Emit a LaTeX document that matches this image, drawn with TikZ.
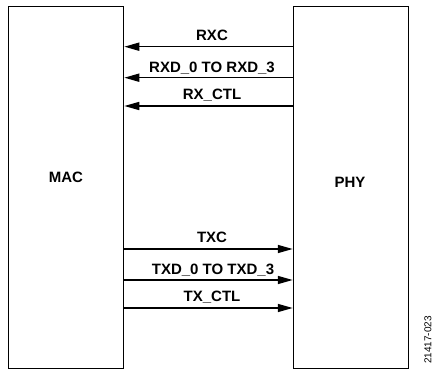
\documentclass[tikz,border=0pt]{standalone}
\usepackage{fontspec}
\setmainfont{Liberation Sans}
\usetikzlibrary{arrows.meta}
\begin{document}
\begin{tikzpicture}[x=1pt,y=-1pt,
  box/.style={draw,line width=1.5pt,minimum width=115pt,minimum height=362pt,inner sep=0pt},
  sig/.style={line width=1.6pt,-{Triangle[length=15pt,width=8pt]}},
  lbl/.style={font=\fontsize{15}{18}\selectfont\bfseries,anchor=base,inner sep=0pt},
  blk/.style={font=\fontsize{15}{18}\selectfont\bfseries,inner sep=0pt}]
\useasboundingbox (0,0) rectangle (437,371);
\node[box] (mac) at (66,187.5) {};
\node[box] (phy) at (351,187.5) {};
\node[blk] (maclbl) at (66,177) {MAC};
\node[blk] (phylbl) at (350,182) {PHY};
% receive
\draw[sig] (phy.west |- 0,46.7) -- (mac.east |- 0,46.7);
\draw[sig] (phy.west |- 0,77.7) -- (mac.east |- 0,77.7);
\draw[sig] (phy.west |- 0,106) -- (mac.east |- 0,106);
\node[lbl] (rxc) at (212,40.5) {RXC};
\node[lbl] (rxd) at (212,72.5) {RXD\_0 TO RXD\_3};
\node[lbl] (rxctl) at (212,99.5) {RX\_CTL};
% transmit
\draw[sig] (mac.east |- 0,249) -- (phy.west |- 0,249);
\draw[sig] (mac.east |- 0,280) -- (phy.west |- 0,280);
\draw[sig] (mac.east |- 0,308) -- (phy.west |- 0,308);
\node[lbl] (txc) at (212,242.5) {TXC};
\node[lbl] (txd) at (213,275) {TXD\_0 TO TXD\_3};
\node[lbl] (txctl) at (212,301.5) {TX\_CTL};
\node[rotate=90,font=\fontsize{10}{12}\selectfont,inner sep=0pt] (fig) at (428,340) {21417-023};
\end{tikzpicture}
\end{document}
